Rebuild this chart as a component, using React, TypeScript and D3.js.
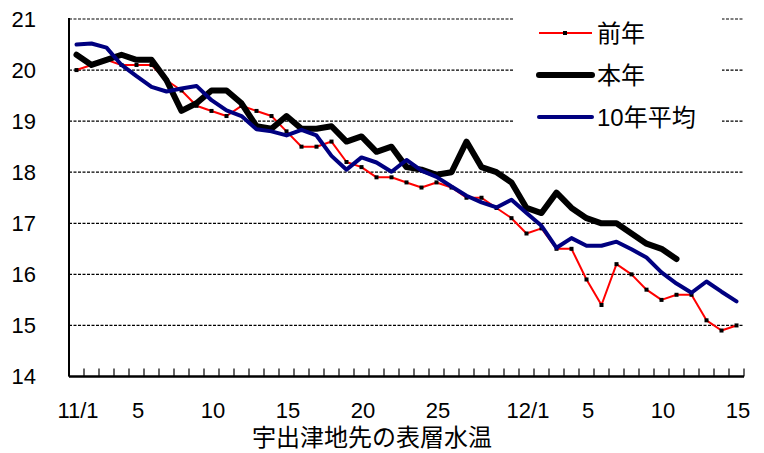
import React from 'react';
import * as d3 from 'd3';

// 11/1 .. 12/15
const days: string[] = [
    ...d3.range(1, 31).map(d => `11/${d}`),
    ...d3.range(1, 16).map(d => `12/${d}`)
];

const prevYear = [
    20.0, 20.1, 20.2, 20.1, 20.1, 20.1, 19.8, 19.6, 19.3, 19.2,
    19.1, 19.3, 19.2, 19.1, 18.8, 18.5, 18.5, 18.6, 18.2, 18.1,
    17.9, 17.9, 17.8, 17.7, 17.8, 17.7, 17.5, 17.5, 17.3, 17.1,
    16.8, 16.9, 16.5, 16.5, 15.9, 15.4, 16.2, 16.0, 15.7, 15.5,
    15.6, 15.6, 15.1, 14.9, 15.0
];

const thisYear = [
    20.3, 20.1, 20.2, 20.3, 20.2, 20.2, 19.8, 19.2, 19.35, 19.6,
    19.6, 19.35, 18.9, 18.85, 19.1, 18.85, 18.85, 18.9, 18.6, 18.7,
    18.4, 18.5, 18.1, 18.05, 17.95, 18.0, 18.6, 18.1, 18.0, 17.8,
    17.3, 17.2, 17.6, 17.3, 17.1, 17.0, 17.0, 16.8, 16.6, 16.5,
    16.3
];

const avg10 = [
    20.5, 20.52, 20.44, 20.1, 19.88, 19.67, 19.58, 19.64, 19.69, 19.41,
    19.21, 19.1, 18.84, 18.8, 18.72, 18.83, 18.72, 18.32, 18.05, 18.29,
    18.19, 18.01, 18.24, 18.03, 17.91, 17.72, 17.54, 17.41, 17.31, 17.46,
    17.2, 16.95, 16.52, 16.71, 16.56, 16.56, 16.64, 16.49, 16.33, 16.04,
    15.82, 15.64, 15.86, 15.66, 15.47
];

const yTicks = [14, 15, 16, 17, 18, 19, 20, 21];
const xTickDays = ['11/1', '11/5', '11/10', '11/15', '11/20', '11/25', '12/1', '12/5', '12/10', '12/15'];
const xTickLabels = ['11/1', '5', '10', '15', '20', '25', '12/1', '5', '10', '15'];

const legendItems = [
    { label: '前年', color: '#ff0000', width: 2, marker: true },
    { label: '本年', color: '#000000', width: 6, marker: false },
    { label: '10年平均', color: '#000080', width: 4, marker: false }
];

const W = 764;
const H = 453;
const plot = { left: 69, right: 744, top: 19, bottom: 376.5 };
const font = '"Liberation Sans", Arial, "Noto Sans CJK JP", sans-serif';

const App: React.FC = () => {
    const x = d3.scaleBand<string>().domain(days).range([plot.left, plot.right]).padding(0);
    const cx = (d: string) => (x(d) as number) + x.bandwidth() / 2;
    const y = d3.scaleLinear().domain([14, 21]).range([plot.bottom, plot.top]);

    const line = d3.line<number>()
        .x((_, i) => cx(days[i]))
        .y(v => y(v));

    const boundaries = d3.range(days.length + 1).map(i => plot.left + i * x.step());

    return (
        <svg width={W} height={H} style={{ position: 'absolute', left: 0, top: 0, background: '#fff' }}
            fontFamily={font}>
            {/* grid */}
            {yTicks.filter(t => t > 14).map(t => (
                <line key={t} x1={plot.left} x2={plot.right} y1={y(t)} y2={y(t)}
                    stroke="#000" strokeWidth={1.2} strokeDasharray="3 1.5" />
            ))}
            {yTicks.map(t => (
                <text key={t} x={36} y={y(t)} dy="0.36em" textAnchor="end" fontSize={22}>{t}</text>
            ))}

            {/* series */}
            <path d={line(prevYear) || ''} fill="none" stroke="#ff0000" strokeWidth={2} strokeLinejoin="round" />
            {prevYear.map((v, i) => (
                <rect key={i} x={cx(days[i]) - 2} y={y(v) - 2} width={4} height={4} fill="#000" />
            ))}
            <path d={line(thisYear) || ''} fill="none" stroke="#000" strokeWidth={6} strokeLinejoin="round" strokeLinecap="round" />
            <path d={line(avg10) || ''} fill="none" stroke="#000080" strokeWidth={4} strokeLinejoin="round" strokeLinecap="round" />

            {/* axes */}
            <line x1={plot.left} x2={plot.left} y1={plot.top - 1} y2={plot.bottom} stroke="#000" strokeWidth={2} />
            <line x1={plot.left} x2={plot.right} y1={plot.bottom} y2={plot.bottom} stroke="#000" strokeWidth={2.5} />
            {boundaries.map((bx, i) => (
                <line key={i} x1={bx} x2={bx} y1={plot.bottom} y2={plot.bottom - 8} stroke="#000" strokeWidth={1.2} />
            ))}
            {xTickDays.map((d, i) => (
                <text key={d} x={cx(d) + 1.5} y={418} textAnchor="middle" fontSize={22}>{xTickLabels[i]}</text>
            ))}
            <text x={372} y={446} textAnchor="middle" fontSize={24} fontFamily='"Noto Sans CJK JP", sans-serif'>
                宇出津地先の表層水温
            </text>

            {/* legend */}
            <rect x={513} y={6} width={209} height={128} fill="#fff" />
            {legendItems.map((it, i) => {
                const ly = 33 + i * 42;
                return (
                    <g key={it.label}>
                        <line x1={539} x2={592} y1={ly} y2={ly} stroke={it.color} strokeWidth={it.width}
                            strokeLinecap={it.marker ? 'butt' : 'round'} />
                        {it.marker && <rect x={563} y={ly - 2} width={4} height={4} fill="#000" />}
                        <text x={597} y={ly} dy="0.36em" fontSize={24}>{it.label}</text>
                    </g>
                );
            })}
        </svg>
    );
};

export default App;
